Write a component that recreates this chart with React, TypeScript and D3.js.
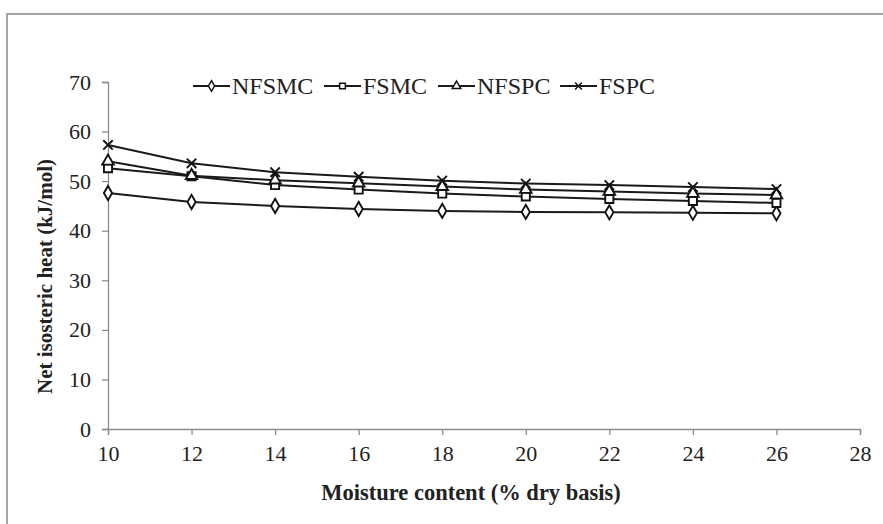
import React, { useRef, useEffect } from 'react';
import * as d3 from 'd3';

const moisture = [10, 12, 14, 16, 18, 20, 22, 24, 26];
const nfsmc = [47.6, 45.8, 45.0, 44.4, 44.0, 43.8, 43.7, 43.6, 43.5];
const fsmc = [52.6, 51.0, 49.2, 48.3, 47.5, 46.9, 46.4, 46.0, 45.6];
const nfspc = [54.0, 51.1, 50.2, 49.6, 48.9, 48.3, 47.9, 47.5, 47.2];
const fspc = [57.3, 53.6, 51.8, 50.9, 50.1, 49.5, 49.2, 48.8, 48.4];
const seriesNames = ['NFSMC', 'FSMC', 'NFSPC', 'FSPC'];
const xTicks = [10, 12, 14, 16, 18, 20, 22, 24, 26, 28];
const yTicks = [0, 10, 20, 30, 40, 50, 60, 70];

const App = () => {
    const svgRef = useRef<SVGSVGElement>(null);

    useEffect(() => {
        const svg = d3.select(svgRef.current);
        svg.selectAll('*').remove();

        const width = 883;
        const height = 524;
        const left = 108, right = 860, top = 82, bottom = 429;
        const font = '"Liberation Serif", "Times New Roman", serif';

        // outer frame
        svg.append('rect')
            .attr('x', 7).attr('y', 14)
            .attr('width', width + 20).attr('height', height + 20)
            .attr('fill', 'white')
            .attr('stroke', '#a6a6a6')
            .attr('stroke-width', 2);

        const x = d3.scaleLinear().domain([10, 28]).range([left, right]);
        const y = d3.scaleLinear().domain([0, 70]).range([bottom, top]);

        const xAxis = svg.append('g')
            .attr('transform', `translate(0,${bottom})`)
            .call(d3.axisBottom(x).tickValues(xTicks).tickSizeOuter(0).tickSize(6).tickPadding(7));
        const yAxis = svg.append('g')
            .attr('transform', `translate(${left},0)`)
            .call(d3.axisLeft(y).tickValues(yTicks).tickSizeOuter(0).tickSize(6).tickPadding(11));

        [xAxis, yAxis].forEach(g => {
            g.select('.domain').attr('stroke', '#8c8c8c').attr('stroke-width', 1.3);
            g.selectAll('.tick line').attr('stroke', '#8c8c8c').attr('stroke-width', 1.3);
            g.selectAll('.tick text')
                .attr('font-family', font)
                .attr('font-size', '22px')
                .attr('fill', '#222');
        });
        xAxis.selectAll('.tick text').attr('dy', '0.85em');

        // axis titles
        svg.append('text')
            .attr('x', (left + right) / 2 - 13)
            .attr('y', 500)
            .attr('text-anchor', 'middle')
            .attr('font-family', font)
            .attr('font-weight', 'bold')
            .attr('font-size', '22.5px')
            .attr('fill', '#222')
            .text('Moisture content (% dry basis)');

        svg.append('text')
            .attr('transform', `translate(52,${(top + bottom) / 2 + 21}) rotate(-90)`)
            .attr('text-anchor', 'middle')
            .attr('font-family', font)
            .attr('font-weight', 'bold')
            .attr('font-size', '21px')
            .attr('fill', '#222')
            .text('Net isosteric heat (kJ/mol)');

        const symbolTypes = [d3.symbolDiamond, d3.symbolSquare, d3.symbolTriangle, d3.symbolTimes];
        const allSeries = [nfsmc, fsmc, nfspc, fspc];

        const line = d3.line<number>()
            .x((d, i) => x(moisture[i]))
            .y(d => y(d));

        allSeries.forEach(vals => {
            svg.append('path')
                .datum(vals)
                .attr('d', line)
                .attr('fill', 'none')
                .attr('stroke', '#1a1a1a')
                .attr('stroke-width', 2);
        });

        const markerSizes = [58, 66, 58, 60];
        allSeries.forEach((vals, si) => {
            svg.append('g')
                .selectAll('path')
                .data(vals)
                .join('path')
                .attr('transform', (d, i) => `translate(${x(moisture[i])},${y(d)})`)
                .attr('d', d3.symbol().type(symbolTypes[si]).size(markerSizes[si])())
                .attr('fill', si === 3 ? 'none' : 'white')
                .attr('stroke', '#111')
                .attr('stroke-width', 1.9);
        });

        // legend
        const legendX = [193, 324, 438, 560];
        const legendY = 86;
        seriesNames.forEach((name, si) => {
            const g = svg.append('g').attr('transform', `translate(${legendX[si]},${legendY})`);
            g.append('line')
                .attr('x1', 0).attr('x2', 37)
                .attr('y1', 0).attr('y2', 0)
                .attr('stroke', '#1a1a1a')
                .attr('stroke-width', 1.8);
            g.append('path')
                .attr('transform', 'translate(18.5,0)')
                .attr('d', d3.symbol().type(symbolTypes[si]).size(32)())
                .attr('fill', si === 3 ? 'none' : 'white')
                .attr('stroke', '#111')
                .attr('stroke-width', 1.5);
            g.append('text')
                .attr('x', 39)
                .attr('y', 0)
                .attr('dy', '0.35em')
                .attr('font-family', font)
                .attr('font-size', '24px')
                .attr('fill', '#222')
                .text(name);
        });
    }, []);

    return (
        <svg ref={svgRef} width={883} height={524}
            style={{ position: 'absolute', left: 0, top: 0, background: 'white' }}></svg>
    );
};

export default App;
